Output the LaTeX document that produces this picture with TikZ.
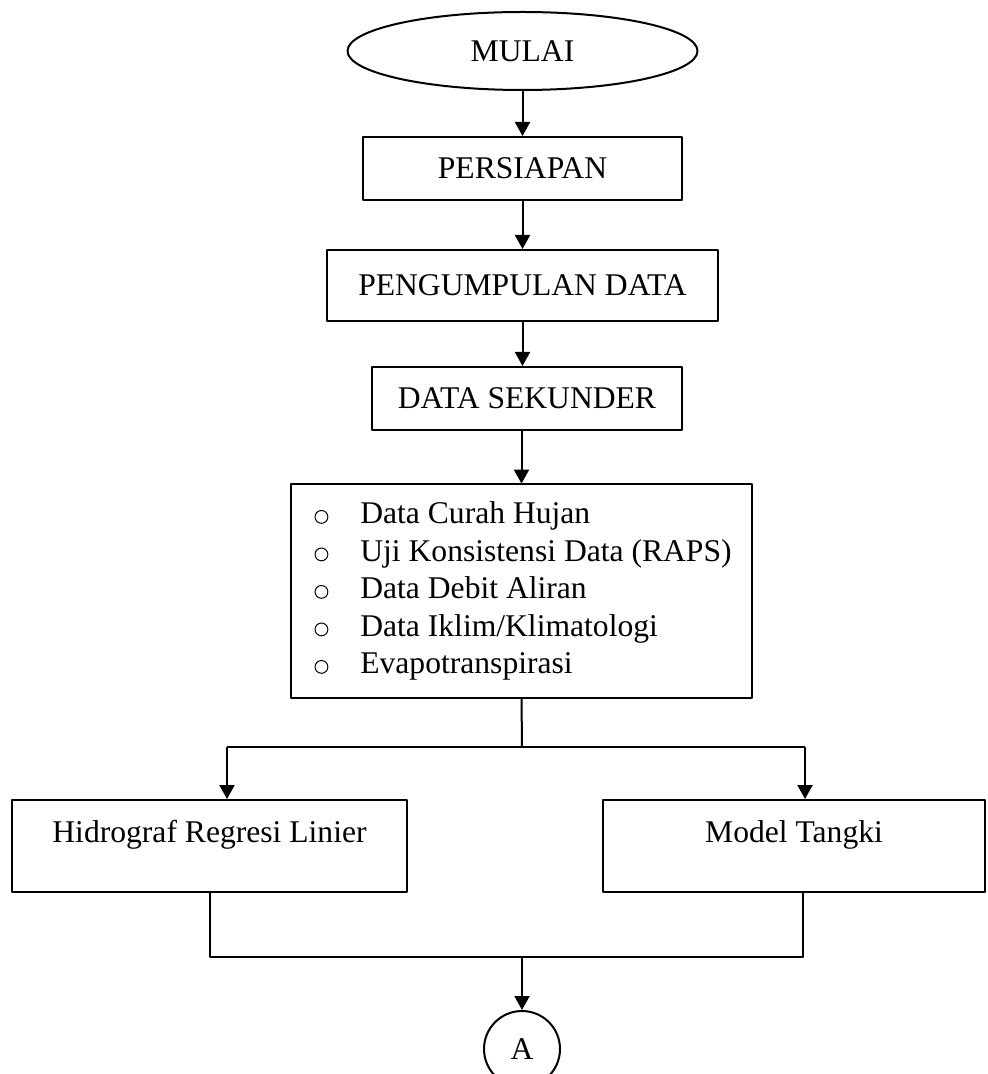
\documentclass[tikz,border=0pt]{standalone}
\usepackage{fontspec}
\setmainfont{Liberation Serif}
\usetikzlibrary{arrows.meta,shapes.geometric}
\newcommand{\bul}{\makebox[24.5pt][l]{\hspace{1.6pt}\tikz[baseline=0pt]\draw[line width=0.5pt] (0,3.3pt) circle (3.2pt);}}
\begin{document}
\begin{tikzpicture}[x=0.5pt, y=-0.5pt, line width=1pt, line join=round, >={Triangle[length=7pt,width=7.5pt]},
	font=\fontsize{15.8}{18.75}\selectfont,
	kotak/.style={draw, rectangle, inner sep=0pt},
	proses/.style={kotak, text height=10.5pt, text depth=14pt}]
	\useasboundingbox (0,0) rectangle (987,1074);
	% bagian atas
	\node[draw, ellipse, inner sep=0pt, minimum width=175pt, minimum height=39pt] (mulai) at (522.5,51) {MULAI};
	\node[kotak, minimum width=159.5pt, minimum height=31.5pt] (persiapan) at (522.5,168.5) {PERSIAPAN};
	\node[kotak, minimum width=195.5pt, minimum height=35.5pt] (kumpul) at (522.5,285.5) {PENGUMPULAN DATA};
	\node[kotak, minimum width=155pt, minimum height=31.5pt] (sekunder) at (527,398.5) {DATA SEKUNDER};
	\node[kotak, minimum width=230.5pt, minimum height=107pt] (daftar) at (521.5,591)
		{\begin{tabular}{@{}l@{}}
			\bul Data Curah Hujan\\
			\bul Uji Konsistensi Data (RAPS)\\
			\bul Data Debit Aliran\\
			\bul Data Iklim/Klimatologi\\
			\bul Evapotranspirasi
		\end{tabular}};
	% dua metode
	\node[proses, minimum width=197.5pt, minimum height=46pt] (hidro) at (209.5,846) {Hidrograf Regresi Linier};
	\node[proses, minimum width=191pt, minimum height=46pt] (tangki) at (794,846) {Model Tangki};
	\node[draw, circle, inner sep=0pt, minimum size=38pt] (A) at (522,1049) {A};
	% panah
	\draw[->] (mulai.south) -- (persiapan.north);
	\draw[->] (persiapan.south) -- (kumpul.north);
	\draw[->] (kumpul.south) -- (kumpul.south |- sekunder.north);
	\draw[->] (daftar.north |- sekunder.south) -- (daftar.north);
	\coordinate (cabang) at (522,747);
	\coordinate (kiri) at (227,747);
	\coordinate (kanan) at (805,747);
	\draw (daftar.south) -- (cabang);
	\draw (kiri) -- (kanan);
	\draw[->] (kiri) -- (kiri |- hidro.north);
	\draw[->] (kanan) -- (kanan |- tangki.north);
	\coordinate (gabung) at (522,957);
	\coordinate (ujung) at (803,957);
	\draw (hidro.south) |- (ujung) -- (ujung |- tangki.south);
	\draw[->] (gabung) -- (A.north);
\end{tikzpicture}
\end{document}
